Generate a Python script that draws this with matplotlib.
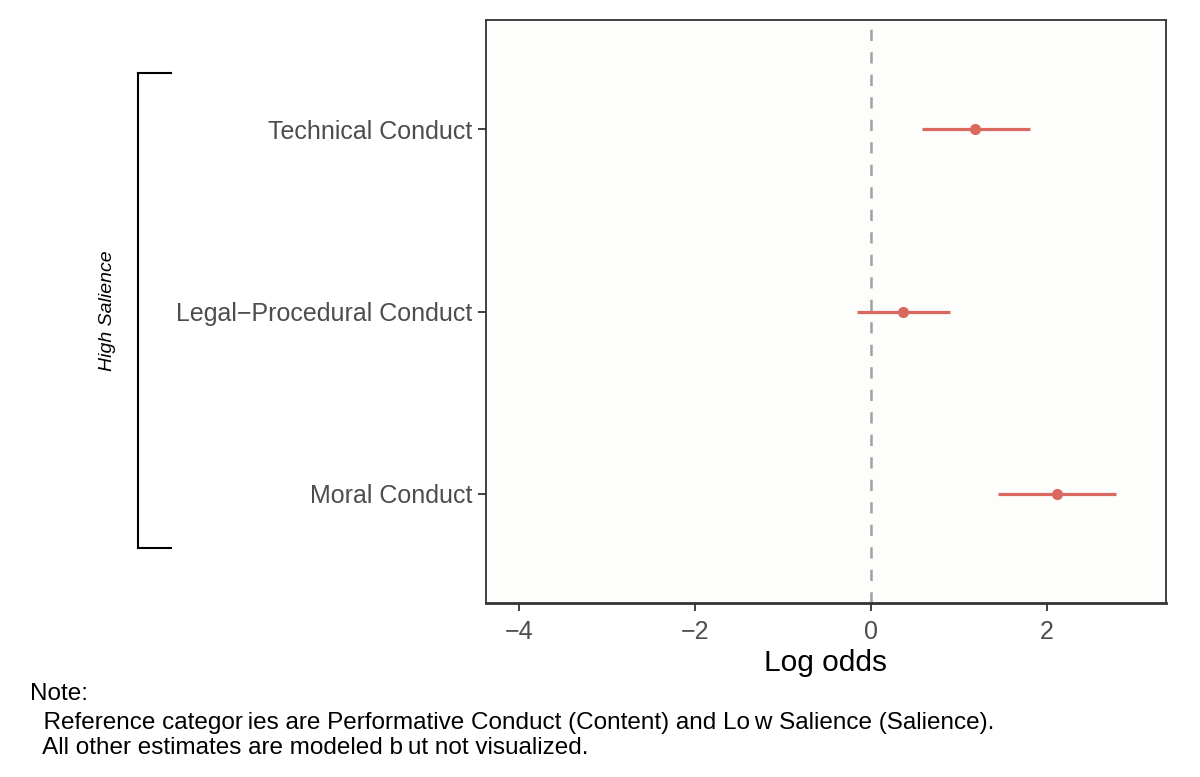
import matplotlib
matplotlib.use("Agg")
import matplotlib.pyplot as plt

categories = ["Technical Conduct", "Legal\u2212Procedural Conduct", "Moral Conduct"]
estimates = [1.18, 0.36, 2.11]
ci_low = [0.58, -0.16, 1.44]
ci_high = [1.80, 0.90, 2.78]
x_ticks = [-4, -2, 0, 2]
x_tick_labels = ["\u22124", "\u22122", "0", "2"]
group_label = "High Salience"
note_lines = ["Note:",
              "  Reference categor\u2009ies are Performative Conduct (Content) and Lo\u2009w Salience (Salience).",
              "  All other estimates are modeled b\u2009ut not visualized."]

plt.rcParams['font.family'] = ['Liberation Sans', 'DejaVu Sans']
W, H = 1200, 777
fig = plt.figure(figsize=(W/100, H/100), dpi=100)
ax = fig.add_axes([486/W, 1-603/H, (1166-486)/W, (603-20)/H])
ax.set_facecolor('#fdfdfb')

col = '#d9695f'
ypos = [1, 2, 3]
for y, e, lo, hi in zip(ypos, estimates, ci_low, ci_high):
    ax.plot([lo, hi], [y, y], color=col, lw=2.3, solid_capstyle='butt', zorder=3)
    ax.plot([e], [y], 'o', color=col, ms=7, zorder=4)

ax.axvline(0, color='#a0a0a0', lw=1.8, ls=(0, (4.5, 4.5)), zorder=2)
ax.set_xlim(-4.375, 3.35)
ax.set_ylim(3.6, 0.4)
ax.set_yticks(ypos)
ax.set_yticklabels(categories)
ax.set_xticks(x_ticks)
ax.set_xticklabels(x_tick_labels)
ax.tick_params(axis='both', colors='#333333', labelcolor='#4d4d4d', labelsize=18,
               length=6, width=1.3)
ax.tick_params(axis='x', pad=6)
ax.tick_params(axis='y', pad=4)
for s in ax.spines.values():
    s.set_color('#333333')
    s.set_linewidth(1.3)
ax.spines['bottom'].set_linewidth(2.0)
ax.set_xlabel('Log odds', fontsize=21.5, color='black', labelpad=4)

# bracket
bx = 138/W
bt = 1-73/H
bb = 1-548/H
bxr = 171/W
fig.add_artist(plt.Line2D([bx, bx], [bt, bb], color='black', lw=1.5, transform=fig.transFigure))
fig.add_artist(plt.Line2D([bx, bxr], [bt, bt], color='black', lw=1.5, transform=fig.transFigure))
fig.add_artist(plt.Line2D([bx, bxr], [bb, bb], color='black', lw=1.5, transform=fig.transFigure))
fig.text(108/W, 1-311/H, group_label, rotation=90, style='italic', fontsize=14,
         ha='center', va='center', color='black')

fig.text(30/W, 1-694/H, note_lines[0], fontsize=17.5, ha='left', va='center')
fig.text(30/W, 1-723/H, note_lines[1], fontsize=17.5, ha='left', va='center')
fig.text(30/W, 1-748/H, note_lines[2], fontsize=17.5, ha='left', va='center')

fig.savefig('out.png', dpi=100, facecolor='white')
